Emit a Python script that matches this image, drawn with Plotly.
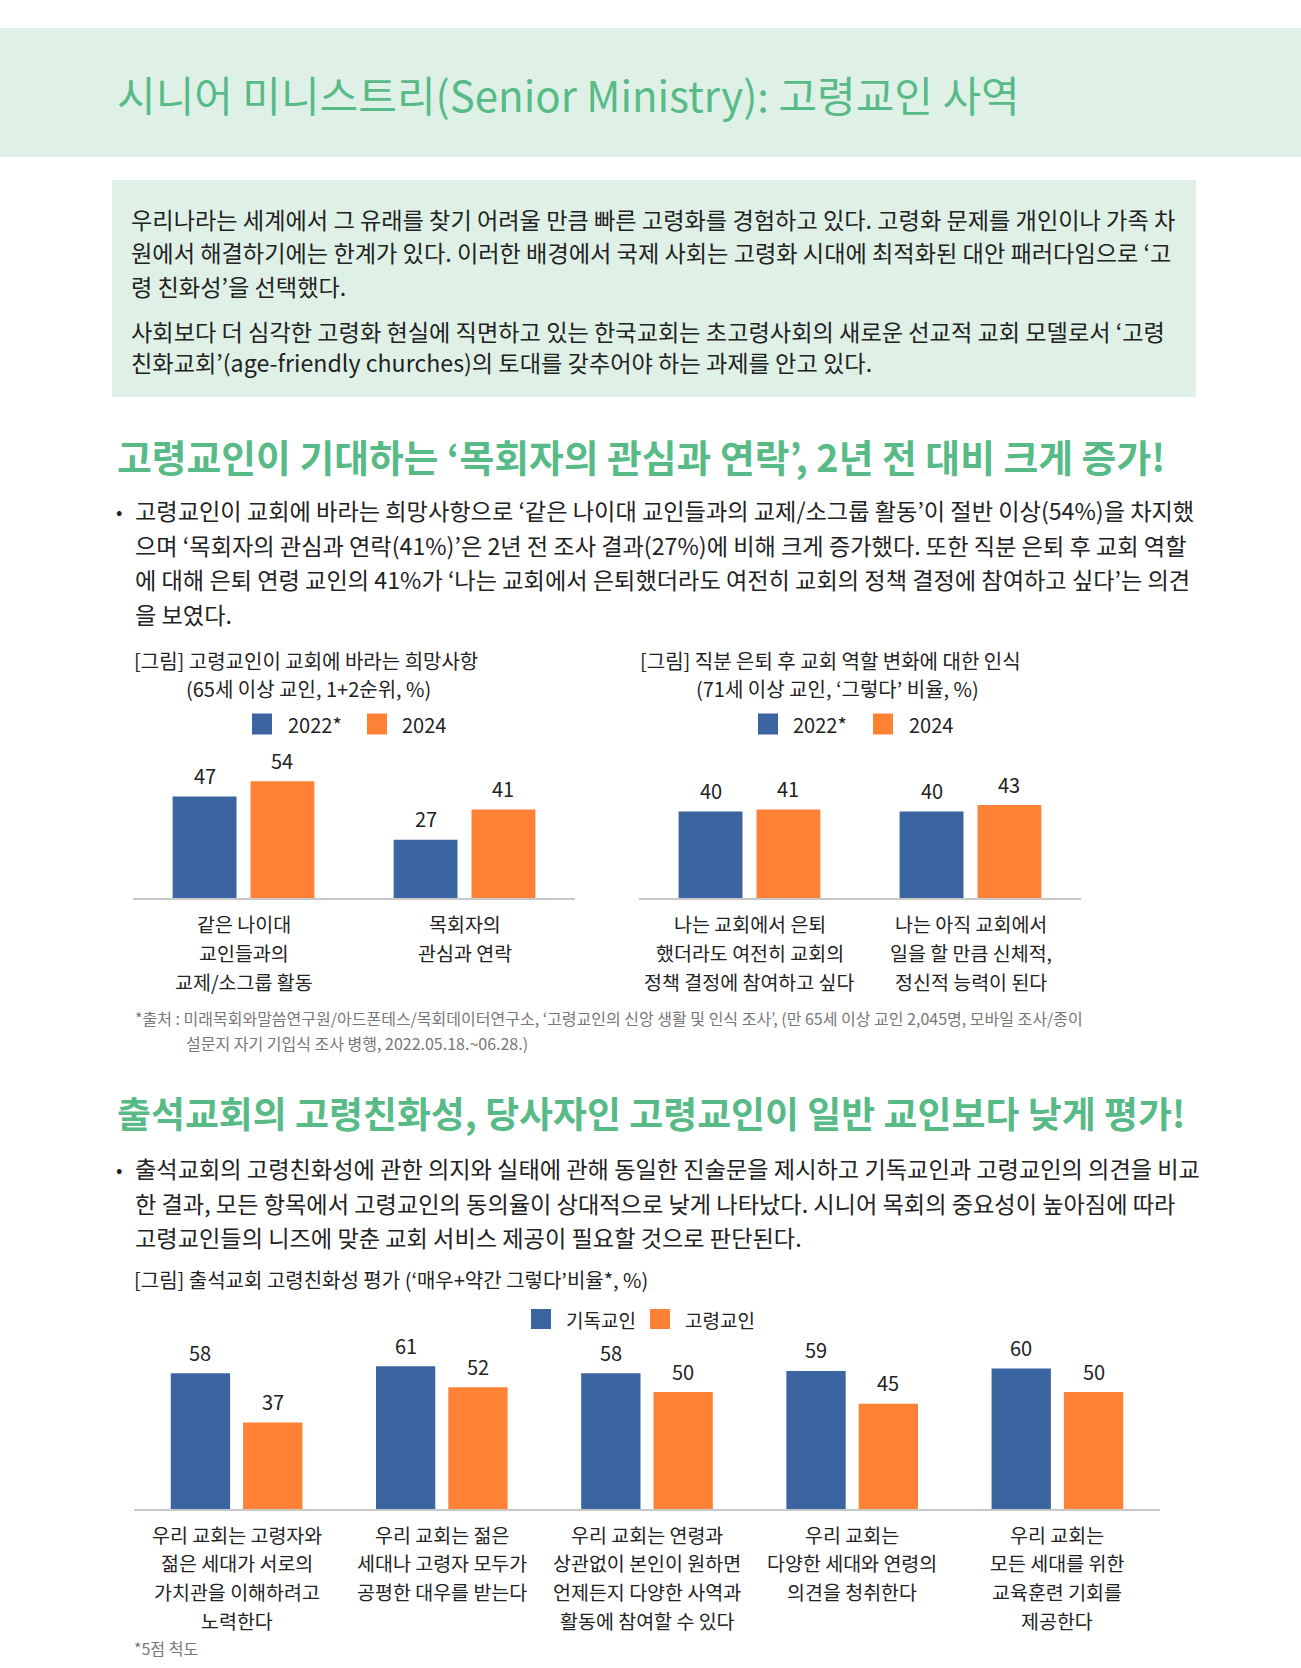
import plotly.graph_objects as go

W, H = 1301, 1668
FONT = "Noto Sans CJK KR"

# ---------------- data ----------------
years = ["2022*", "2024"]
hope_cats = ["같은 나이대<br>교인들과의<br>교제/소그룹 활동", "목회자의<br>관심과 연락"]
hope_2022 = [47, 27]
hope_2024 = [54, 41]

role_cats = ["나는 교회에서 은퇴<br>했더라도 여전히 교회의<br>정책 결정에 참여하고 싶다",
             "나는 아직 교회에서<br>일을 할 만큼 신체적,<br>정신적 능력이 된다"]
role_2022 = [40, 40]
role_2024 = [41, 43]

groups = ["기독교인", "고령교인"]
friendly_cats = ["우리 교회는 고령자와<br>젊은 세대가 서로의<br>가치관을 이해하려고<br>노력한다",
                 "우리 교회는 젊은<br>세대나 고령자 모두가<br>공평한 대우를 받는다",
                 "우리 교회는 연령과<br>상관없이 본인이 원하면<br>언제든지 다양한 사역과<br>활동에 참여할 수 있다",
                 "우리 교회는<br>다양한 세대와 연령의<br>의견을 청취한다",
                 "우리 교회는<br>모든 세대를 위한<br>교육훈련 기회를<br>제공한다"]
friendly_christian = [58, 61, 58, 59, 60]
friendly_senior = [37, 52, 50, 45, 50]

title = "시니어 미니스트리(Senior Ministry): 고령교인 사역"
intro_lines = [
    "우리나라는 세계에서 그 유래를 찾기 어려울 만큼 빠른 고령화를 경험하고 있다. 고령화 문제를 개인이나 가족 차",
    "원에서 해결하기에는 한계가 있다. 이러한 배경에서 국제 사회는 고령화 시대에 최적화된 대안 패러다임으로 ‘고",
    "령 친화성’을 선택했다.",
    "사회보다 더 심각한 고령화 현실에 직면하고 있는 한국교회는 초고령사회의 새로운 선교적 교회 모델로서 ‘고령",
    "친화교회’(age-friendly churches)의 토대를 갖추어야 하는 과제를 안고 있다.",
]
head1 = "고령교인이 기대하는 ‘목회자의 관심과 연락’, 2년 전 대비 크게 증가!"
bullet1 = [
    "고령교인이 교회에 바라는 희망사항으로 ‘같은 나이대 교인들과의 교제/소그룹 활동’이 절반 이상(54%)을 차지했",
    "으며 ‘목회자의 관심과 연락(41%)’은 2년 전 조사 결과(27%)에 비해 크게 증가했다. 또한 직분 은퇴 후 교회 역할",
    "에 대해 은퇴 연령 교인의 41%가 ‘나는 교회에서 은퇴했더라도 여전히 교회의 정책 결정에 참여하고 싶다’는 의견",
    "을 보였다.",
]
chart1_title = ["[그림] 고령교인이 교회에 바라는 희망사항", "(65세 이상 교인, 1+2순위, %)"]
chart2_title = ["[그림] 직분 은퇴 후 교회 역할 변화에 대한 인식", "(71세 이상 교인, ‘그렇다’ 비율, %)"]
source_lines = [
    "*출처 : 미래목회와말씀연구원/아드폰테스/목회데이터연구소, ‘고령교인의 신앙 생활 및 인식 조사’, (만 65세 이상 교인 2,045명, 모바일 조사/종이",
    "설문지 자기 기입식 조사 병행, 2022.05.18.~06.28.)",
]
head2 = "출석교회의 고령친화성, 당사자인 고령교인이 일반 교인보다 낮게 평가!"
bullet2 = [
    "출석교회의 고령친화성에 관한 의지와 실태에 관해 동일한 진술문을 제시하고 기독교인과 고령교인의 의견을 비교",
    "한 결과, 모든 항목에서 고령교인의 동의율이 상대적으로 낮게 나타났다. 시니어 목회의 중요성이 높아짐에 따라",
    "고령교인들의 니즈에 맞춘 교회 서비스 제공이 필요할 것으로 판단된다.",
]
chart3_title = "[그림] 출석교회 고령친화성 평가 (‘매우+약간 그렇다’비율*, %)"
scale_note = "*5점 척도"

# ---------------- style ----------------
BLUE = "#3a65a1"
ORANGE = "#fe8135"
GREEN = "#58bb87"
BG_GREEN = "#dff1e7"
TXT = "#222222"
GRAY = "#777777"
BARGAP = 0.295
GROUPGAP = 0.18
BODY = 23.2


def X(px):
    return px / W


def Y(py):
    return 1 - py / H


fig = go.Figure()

# bars
series = [
    ("x", "y", hope_cats, [hope_2022, hope_2024], years),
    ("x2", "y2", role_cats, [role_2022, role_2024], years),
    ("x3", "y3", friendly_cats, [friendly_christian, friendly_senior], groups),
]
for xa, ya, cats, vals, names in series:
    for v, nm, col in zip(vals, names, [BLUE, ORANGE]):
        fig.add_trace(go.Bar(x=cats, y=v, name=nm, marker=dict(color=col, line=dict(width=0)),
                             xaxis=xa, yaxis=ya, showlegend=False, hoverinfo="skip"))

# axes geometry (pixels)
ax_geo = {
    "1": dict(x0=133, x1=575, base=898, ymax=60, top=898 - 60 * 2.16),
    "2": dict(x0=639, x1=1081, base=898, ymax=60, top=898 - 60 * 2.16),
    "3": dict(x0=134, x1=1160, base=1509, ymax=70, top=1509 - 70 * 2.34),
}
for k, g in ax_geo.items():
    sfx = "" if k == "1" else k
    fig.update_layout(**{
        "xaxis" + sfx: dict(domain=[X(g["x0"]), X(g["x1"])], showline=True, linecolor="#c8c8c8",
                            linewidth=2, showticklabels=False, ticks="", showgrid=False,
                            zeroline=False, fixedrange=True, anchor="y" + sfx),
        "yaxis" + sfx: dict(domain=[Y(g["base"]), Y(g["top"])], range=[0, g["ymax"]], visible=False,
                            fixedrange=True, anchor="x" + sfx),
    })

ann = []
shapes = []


def text(px, py, s, size, color=TXT, anchor="left", bold=False):
    ann.append(dict(x=X(px), y=Y(py), xref="paper", yref="paper", text=("<b>%s</b>" % s) if bold else s,
                    showarrow=False, xanchor=anchor, yanchor="middle",
                    font=dict(family=FONT, size=size, color=color)))


# header band and intro box
shapes.append(dict(type="rect", xref="paper", yref="paper", x0=0, x1=1, y0=Y(157), y1=Y(28),
                   fillcolor=BG_GREEN, line=dict(width=0), layer="below"))
shapes.append(dict(type="rect", xref="paper", yref="paper", x0=X(112), x1=X(1196), y0=Y(397), y1=Y(180),
                   fillcolor=BG_GREEN, line=dict(width=0), layer="below"))

text(115, 94, title, 42, GREEN)
for s, py in zip(intro_lines, [219, 252, 286, 331, 362]):
    text(129, py, s, BODY)

text(115, 455, head1, 37.8, GREEN, bold=True)
text(114, 510, "•", 19)
for s, py in zip(bullet1, [510, 545, 579, 614]):
    text(133, py, s, BODY)

text(132, 660, chart1_title[0], 20)
text(308, 688, chart1_title[1], 20, anchor="center")
text(638, 660, chart2_title[0], 20)
text(837, 688, chart2_title[1], 20, anchor="center")

for s, py, px in zip(source_lines, [1018, 1043], [133, 184]):
    text(px, py, s, 16, GRAY)

text(115, 1112, head2, 36.9, GREEN, bold=True)
text(114, 1168, "•", 19)
for s, py in zip(bullet2, [1168, 1203, 1237]):
    text(133, py, s, BODY)
text(132, 1279, chart3_title, 20)
text(132, 1648, scale_note, 16, GRAY)

# legends (swatch + label)
legend_pos = [
    (years, [(252, 286), (367, 400)], 724, 20, 21, 20),
    (years, [(758, 791), (873, 907)], 724, 20, 21, 20),
    (groups, [(531, 564), (650, 683)], 1319, 20, 20, 19),
]
for names, pos, cy, sw, sh, fs in legend_pos:
    for nm, (sx, tx), col in zip(names, pos, [BLUE, ORANGE]):
        shapes.append(dict(type="rect", xref="paper", yref="paper", x0=X(sx), x1=X(sx + sw),
                           y0=Y(cy + sh / 2), y1=Y(cy - sh / 2), fillcolor=col, line=dict(width=0)))
        text(tx, cy, nm, fs)

# value labels and category labels
label_cfg = [
    ("x", "y", "1", hope_cats, [hope_2022, hope_2024], 923, 29, 19.5),
    ("x2", "y2", "2", role_cats, [role_2022, role_2024], 923, 29, 19.5),
    ("x3", "y3", "3", friendly_cats, [friendly_christian, friendly_senior], 1534, 28.7, 19.5),
]
for xa, ya, k, cats, vals, ly0, lstep, lfs in label_cfg:
    g = ax_geo[k]
    slot = (g["x1"] - g["x0"]) / len(cats) * (1 - BARGAP) / 2
    for si, v in enumerate(vals):
        shift = (si - 0.5) * slot
        for c, val in zip(cats, v):
            ann.append(dict(x=c, y=val, xref=xa, yref=ya, text=str(val), showarrow=False,
                            xanchor="center", yanchor="middle", xshift=shift, yshift=21,
                            font=dict(family=FONT, size=20, color=TXT)))
    for c in cats:
        for i, line in enumerate(c.split("<br>")):
            ann.append(dict(x=c, y=Y(ly0 + i * lstep), xref=xa, yref="paper", text=line,
                            showarrow=False, xanchor="center", yanchor="middle",
                            font=dict(family=FONT, size=lfs, color=TXT)))

fig.update_layout(
    width=W, height=H, margin=dict(l=0, r=0, t=0, b=0),
    paper_bgcolor="white", plot_bgcolor="rgba(0,0,0,0)",
    barmode="group", bargap=BARGAP, bargroupgap=GROUPGAP,
    annotations=ann, shapes=shapes, showlegend=False,
    font=dict(family=FONT, color=TXT),
)

fig.write_html("out.html")
